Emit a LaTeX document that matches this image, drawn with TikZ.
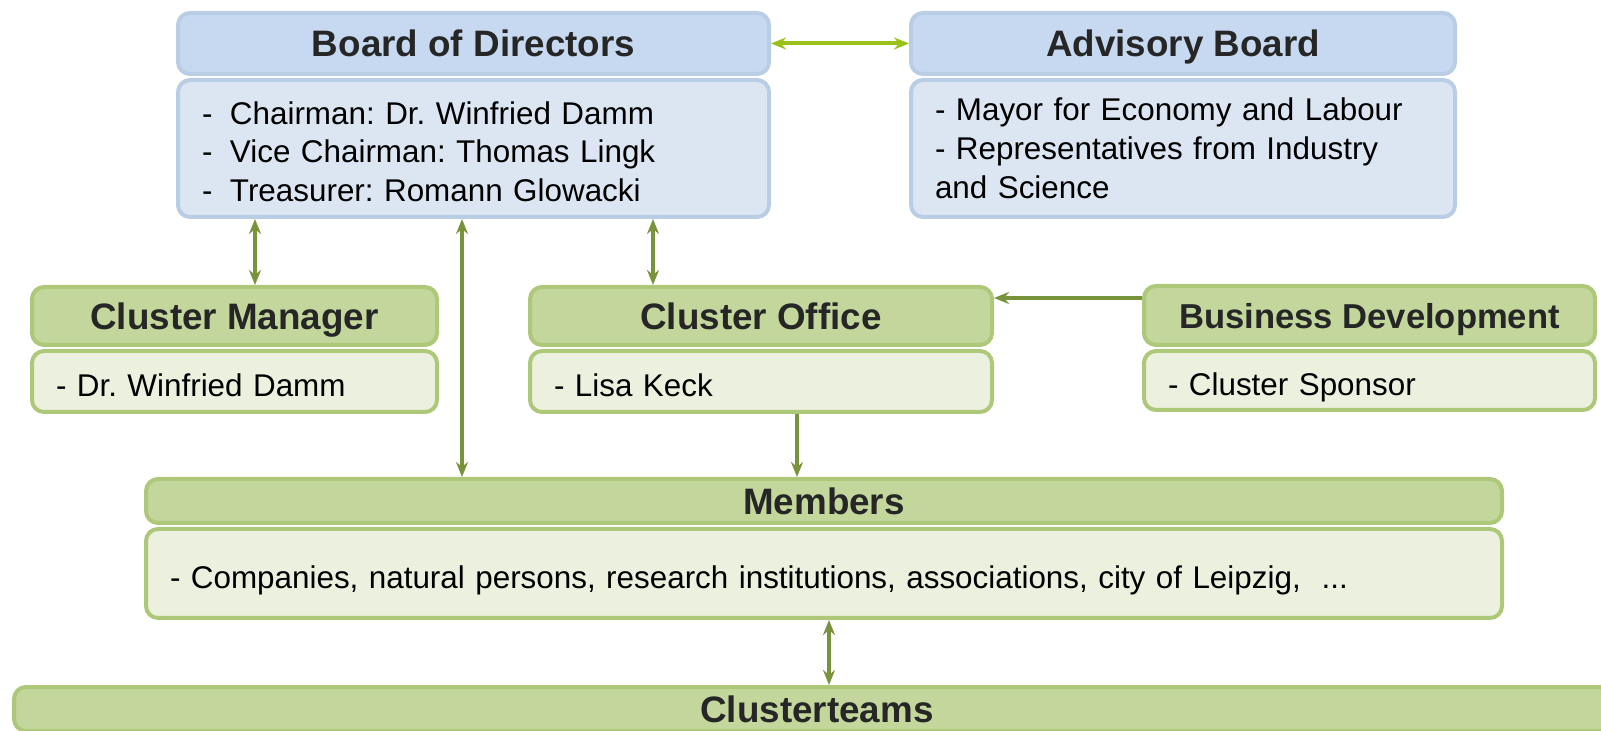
\documentclass[tikz,border=0pt]{standalone}
\usepackage{fontspec}
\setmainfont{Liberation Sans}
\usepackage{tikz}
\usepackage{xcolor}
\usetikzlibrary{positioning, arrows.meta}

\definecolor{bluehead}{HTML}{C6D9F1}
\definecolor{bluebody}{HTML}{DCE6F2}
\definecolor{blueline}{HTML}{B9CDE5}
\definecolor{greenhead}{HTML}{C3D69B}
\definecolor{greenbody}{HTML}{EBF1DE}
\definecolor{greenline}{HTML}{AEC87A}
\definecolor{darkarrow}{HTML}{77933C}
\definecolor{lightarrow}{HTML}{99C21A}
\definecolor{headtext}{HTML}{262626}

\tikzset{
    box/.style={rectangle, rounded corners=6pt, line width=2pt, anchor=north west, inner xsep=12pt, inner ysep=0pt},
    headfont/.style={text=headtext, text height=13.4pt, text depth=0pt, font=\bfseries\fontsize{18.4}{22}\selectfont},
    bodyfont/.style={align=left, font=\fontsize{15.7}{19.4}\selectfont},
    oneline/.style={text height=14.6pt, text depth=0pt},
    bhead/.style={box, draw=blueline, fill=bluehead, headfont},
    bbody/.style={box, draw=blueline, fill=bluebody, bodyfont},
    ghead/.style={box, draw=greenline, fill=greenhead, headfont},
    gbody/.style={box, draw=greenline, fill=greenbody, bodyfont, oneline},
    link/.style={draw=darkarrow, line width=2pt, >={Stealth[length=7.5pt, width=6pt]}},
}

\newcommand{\dashitem}[1]{\makebox[14pt][l]{-}#1}

\begin{document}
\frenchspacing
\begin{tikzpicture}[x=0.5pt, y=-0.5pt]
    \useasboundingbox (0,0) rectangle (1601,731);

    \node[bhead, minimum width=295.5pt, minimum height=30.5pt] (dirhead) at (176, 11) {Board of Directors};
    \node[bbody, text width=271.5pt, minimum height=68.5pt] (dirbody) at (176, 78) {\rule{0pt}{14.6pt}\dashitem{Chairman: Dr. Winfried Damm}\\ \dashitem{Vice Chairman: Thomas Lingk}\\ \dashitem{Treasurer: Romann Glowacki}};
    \node[bhead, minimum width=272pt, minimum height=30.5pt] (advhead) at (909, 11) {Advisory Board};
    \node[bbody, text width=248pt, minimum height=68.5pt] (advbody) at (909, 78) {- Mayor for Economy and Labour\\ - Representatives from Industry\\ and Science};

    \node[ghead, minimum width=202.5pt, minimum height=29pt] (cmhead) at (30, 285) {Cluster Manager};
    \node[gbody, text width=178.5pt, minimum height=30.5pt] (cmbody) at (30, 349) {- Dr. Winfried Damm};
    \node[ghead, minimum width=231pt, minimum height=29pt] (cohead) at (528, 285) {Cluster Office};
    \node[gbody, text width=207pt, minimum height=30.5pt] (cobody) at (528, 349) {- Lisa Keck};
    \node[ghead, minimum width=225.5pt, minimum height=29.5pt, text height=12.6pt, font=\bfseries\fontsize{17.3}{21}\selectfont] (bdhead) at (1142, 284) {Business Development};
    \node[gbody, text width=201.5pt, minimum height=29.5pt] (bdbody) at (1142, 349) {- Cluster Sponsor};

    \node[ghead, minimum width=678pt, minimum height=22pt] (memhead) at (144, 477) {Members};
    \node[gbody, text width=654pt, minimum height=44.5pt] (membody) at (144, 527) {- Companies, natural persons, research institutions, associations, city of Leipzig,~ ...};

    \node[ghead, minimum width=803pt, minimum height=22pt] (teamhead) at (12, 685) {Clusterteams};

    \draw[link, draw=lightarrow, <->] (dirhead.east) -- (advhead.west);
    \draw[link, <->] (255,0 |- dirbody.south) -- (255,0 |- cmhead.north);
    \draw[link, <->] (462,0 |- dirbody.south) -- (462,0 |- memhead.north);
    \draw[link, <->] (653,0 |- dirbody.south) -- (653,0 |- cohead.north);
    \draw[link, ->] (bdhead.west |- 0,298) -- (cohead.east |- 0,298);
    \draw[link, ->] (797,0 |- cobody.south) -- (797,0 |- memhead.north);
    \draw[link, <->] (829,0 |- membody.south) -- (829,0 |- teamhead.north);
\end{tikzpicture}
\end{document}
